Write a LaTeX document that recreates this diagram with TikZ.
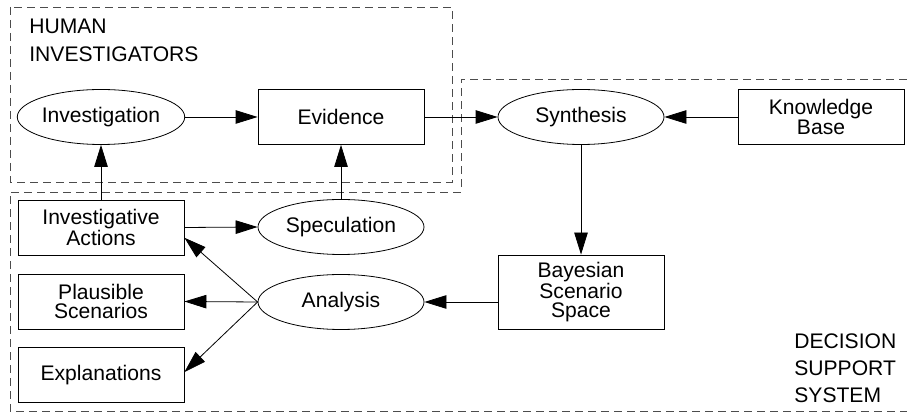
\documentclass[tikz,border=0pt]{standalone}
\usepackage{fontspec}
\setmainfont{Liberation Sans}
\usepackage{tikz}
\usetikzlibrary{arrows.meta}
\usetikzlibrary{shapes.geometric}

\begin{document}
\begin{tikzpicture}[
                        procbox/.style={draw, line width=0.016cm, rectangle, minimum width=3.320000cm, minimum height=1.100000cm, inner sep=0pt, align=center, font=\fontsize{12}{11}\selectfont},
                        procoval/.style={draw, line width=0.016cm, ellipse, minimum width=3.320000cm, minimum height=1.100000cm, inner sep=0pt, font=\fontsize{12}{11}\selectfont},
                        flow/.style={line width=0.016cm, -{Triangle[length=0.440000cm, width=0.270000cm]}},
                        region/.style={line width=0.016cm, black!70, dash pattern=on 0.160000cm off 0.100000cm},
                        regionlabel/.style={anchor=north west, align=left, inner sep=0pt, font=\fontsize{12}{15.5}\selectfont}
                    ]
                        \useasboundingbox (0,0) rectangle (18.140000,8.320000);

                        % Drawing region of human investigators
                        \draw [region] (0.200000,8.180000) rectangle (9.040000,4.680000);%
                        \node [regionlabel] (humanlabel) at (0.580000,7.940000) {HUMAN\\INVESTIGATORS};%

                        % Drawing region of decision support system
                        \draw [region] (18.140000,6.740000) -- (9.220000,6.740000) -- (9.220000,4.480000) -- (0.200000,4.480000) -- (0.200000,0.100000) -- (18.140000,0.100000);%
                        \node [regionlabel] (dsslabel) at (15.880000,1.660000) {DECISION\\SUPPORT\\SYSTEM};%

                        % Placing top row
                        \node [procoval] (investigation) at (2.020000,5.980000) {Investigation};%
                        \node [procbox] (evidence) at (6.820000,5.980000) {Evidence};%
                        \node [procoval] (synthesis) at (11.620000,5.980000) {Synthesis};%
                        \node [procbox] (knowledge) at (16.420000,5.980000) {Knowledge\\Base};%

                        % Placing lower rows
                        \node [procbox] (actions) at (2.020000,3.770000) {Investigative\\Actions};%
                        \node [procoval] (speculation) at (6.820000,3.780000) {Speculation};%
                        \node [procbox] (plausible) at (2.020000,2.290000) {Plausible\\Scenarios};%
                        \node [procoval] (analysis) at (6.820000,2.280000) {Analysis};%
                        \node [procbox] (explanations) at (2.020000,0.820000) {Explanations};%
                        \node [procbox, minimum height=1.480000cm] (bayesian) at (11.620000,2.480000) {Bayesian\\Scenario\\Space};%

                        % Drawing flows
                        \draw [flow] (investigation.east) -- (evidence.west);%
                        \draw [flow] (actions.north) -- (investigation.south);%
                        \draw [flow] (speculation.north) -- (evidence.south);%
                        \draw [flow] (evidence.east) -- (synthesis.west);%
                        \draw [flow] (knowledge.west) -- (synthesis.east);%
                        \draw [flow] (synthesis.south) -- (bayesian.north);%
                        \draw [flow] (bayesian.west |- analysis.east) -- (analysis.east);%
                        \draw [flow] (actions.east) -- (speculation.west);%
                        \draw [flow] (analysis.west) -- (actions.-7);%
                        \draw [flow] (analysis.west) -- (plausible.east);%
                        \draw [flow] (analysis.west) -- (explanations.2);%
\end{tikzpicture}
\end{document}
